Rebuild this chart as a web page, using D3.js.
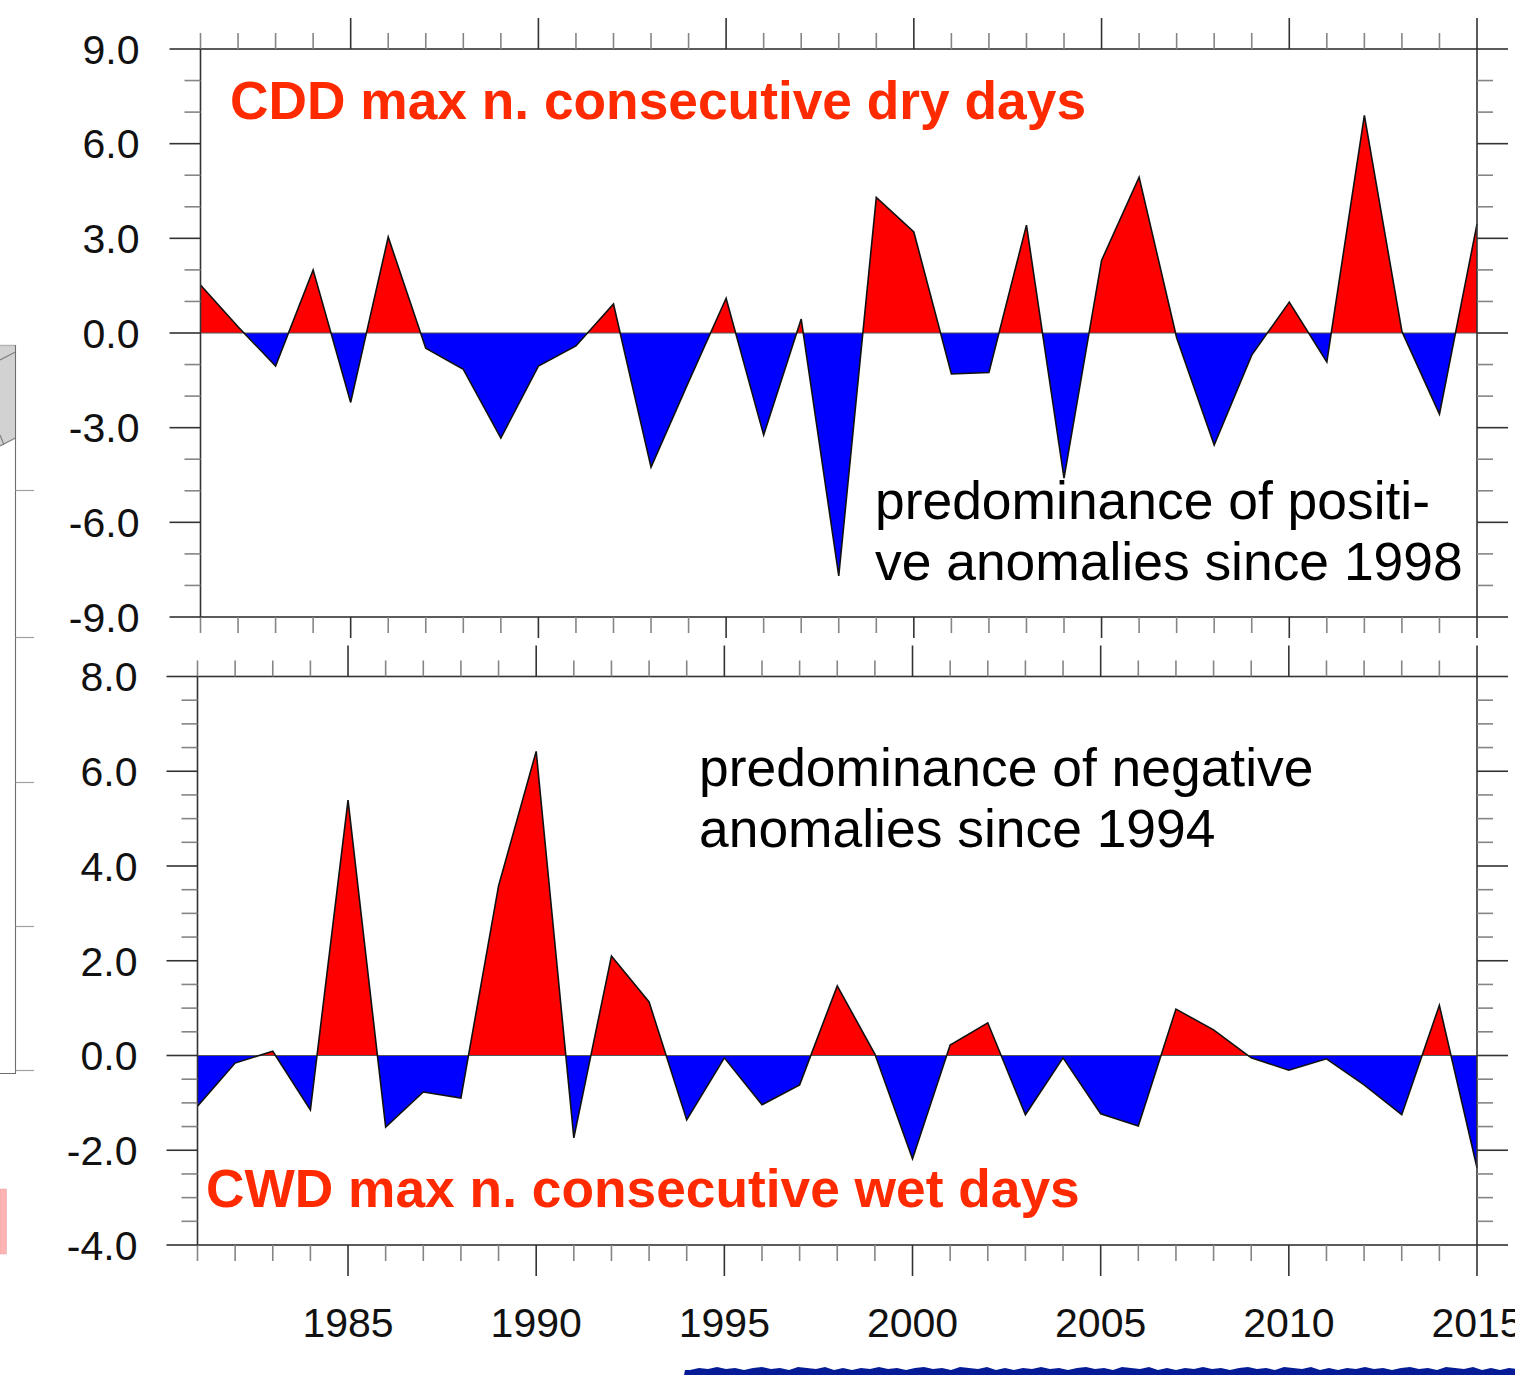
<!DOCTYPE html>
<html>
<head>
<meta charset="utf-8">
<script src="https://cdn.jsdelivr.net/npm/d3@7"></script>
<style>
  html, body { margin: 0; padding: 0; background: #fff; overflow: hidden; }
  svg { display: block; }
  text { font-family: "Liberation Sans", Arial, sans-serif; }
</style>
</head>
<body>
<svg id="chart" width="1515" height="1375"></svg>
<script>
const years = d3.range(1981, 2016);
const yearTicks = [1985, 1990, 1995, 2000, 2005, 2010, 2015];
const minorYears = years.filter((yr) => yr % 5 !== 0);

const cddValues = [1.52, 0.2, -1.05, 2.0, -2.2, 3.04, -0.48, -1.15, -3.33, -1.05, -0.41, 0.92,
  -4.25, -1.55, 1.1, -3.23, 0.44, -7.7, 4.3, 3.2, -1.3, -1.25, 3.42, -4.6, 2.3, 4.94,
  -0.15, -3.55, -0.7, 0.98, -0.92, 6.9, 0.05, -2.57, 3.45];
const cwdValues = [-1.07, -0.16, 0.09, -1.15, 5.39, -1.51, -0.77, -0.9, 3.58, 6.42, -1.74, 2.1,
  1.13, -1.36, -0.05, -1.04, -0.62, 1.47, 0.03, -2.18, 0.22, 0.69, -1.25, -0.05, -1.23, -1.49,
  0.98, 0.54, -0.05, -0.31, -0.07, -0.62, -1.25, 1.06, -2.37];

const cddTicks = [9, 6, 3, 0, -3, -6, -9];
const cddMinor = [8, 7, 5, 4, 2, 1, -1, -2, -4, -5, -7, -8];
const cwdTicks = [8, 6, 4, 2, 0, -2, -4];
const cwdMinor = [7.5, 7, 6.5, 5.5, 5, 4.5, 3.5, 3, 2.5, 1.5, 1, 0.5,
  -0.5, -1, -1.5, -2.5, -3, -3.5];

const dim = { major: 31, minor: 16, font: 41, title: 53.3, note: 53.4, noteLine: 61 };
const axisColor = '#333';
const minorColor = '#858585';
const axisWidth = 1.6;

// top edge of the map strip cut off at the bottom of the slide
const stripEdge = [3, 1, 2, 0, 2, 1, 3, 1, 0, 2, 1, 3, 0, 1, 2, 0, 3, 1];

const svg = d3.select('#chart');

// leftovers of the neighbouring figures on the slide
function drawFragments() {
  const g = svg.append('g');
  g.append('path')
    .attr('d', 'M0,346 L15.5,346 L15.5,438 L0,446 Z')
    .attr('fill', '#d2d2d2');
  g.append('path')
    .attr('d', 'M0,360 L15.5,352 M0,435 L4,445 M0,446 L15.5,438')
    .attr('fill', 'none').attr('stroke', '#808080').attr('stroke-width', 1.2);
  g.append('path')
    .attr('d', 'M0,345.5 H15.5').attr('stroke', '#b5b5b5').attr('stroke-width', 1.5);
  g.append('path')
    .attr('d', 'M15.5,345 V1073.5 H0')
    .attr('fill', 'none').attr('stroke', '#6e6e6e').attr('stroke-width', 1.1);
  g.selectAll('.stub').data([490, 637, 782, 926, 1070]).enter().append('line')
    .attr('x1', 15.5).attr('x2', 34).attr('y1', (d) => d + 0.5).attr('y2', (d) => d + 0.5)
    .attr('stroke', '#a0a0a0').attr('stroke-width', 1.2);
  g.append('rect')
    .attr('x', 0).attr('y', 1189).attr('width', 6.5).attr('height', 65)
    .attr('fill', '#ffb3b3').attr('stroke', '#dba5a5').attr('stroke-width', 0.5);

  const edgeX = d3.range(690, 1520, 9);
  const edge = edgeX.map((x, i) => `L${x},${1367 + stripEdge[i % stripEdge.length]}`).join(' ');
  g.append('path')
    .attr('d', `M684,1375 L685,1370 ${edge} L1515,1375 Z`)
    .attr('fill', '#061b96');
}

function callAxis(g, axis, size, color, padding) {
  const a = g.append('g')
    .call(axis.offset(0).tickSize(size).tickPadding(padding || 0));
  a.select('.domain').remove();
  a.selectAll('line').attr('stroke', color).attr('stroke-width', axisWidth);
  return a;
}

function drawPanel(o) {
  const x = d3.scaleLinear().domain([1981, 2015]).range([o.left, o.right]);
  const y = d3.scaleLinear().domain(o.domain).range([o.top, o.bottom]);
  const g = svg.append('g');
  const zero = y(0);
  const blank = () => '';

  const area = d3.area().x((d, i) => x(years[i])).y0(zero).y1((d) => y(d));
  const line = d3.line().x((d, i) => x(years[i])).y((d) => y(d));

  // clip at the zero line so the fill changes colour where the curve crosses it
  const defs = g.append('defs');
  defs.append('clipPath').attr('id', `clip-up-${o.key}`).append('rect')
    .attr('x', o.left).attr('width', o.right - o.left)
    .attr('y', o.top).attr('height', zero - o.top);
  defs.append('clipPath').attr('id', `clip-down-${o.key}`).append('rect')
    .attr('x', o.left).attr('width', o.right - o.left)
    .attr('y', zero).attr('height', o.bottom - zero);

  g.append('path').attr('d', area(o.values)).attr('fill', '#ff0000')
    .attr('clip-path', `url(#clip-up-${o.key})`);
  g.append('path').attr('d', area(o.values)).attr('fill', '#0000ff')
    .attr('clip-path', `url(#clip-down-${o.key})`);
  g.append('line')
    .attr('x1', o.left).attr('x2', o.right).attr('y1', zero).attr('y2', zero)
    .attr('stroke', '#555').attr('stroke-width', 1);
  g.append('path').attr('d', line(o.values))
    .attr('fill', 'none').attr('stroke', '#111').attr('stroke-width', 1.6)
    .attr('stroke-linejoin', 'miter');

  g.append('rect')
    .attr('x', o.left).attr('y', o.top)
    .attr('width', o.right - o.left).attr('height', o.bottom - o.top)
    .attr('fill', 'none').attr('stroke', axisColor).attr('stroke-width', axisWidth);

  const top = g.append('g').attr('transform', `translate(0,${o.top})`);
  const bottom = g.append('g').attr('transform', `translate(0,${o.bottom})`);
  const left = g.append('g').attr('transform', `translate(${o.left},0)`);
  const right = g.append('g').attr('transform', `translate(${o.right},0)`);

  callAxis(top, d3.axisTop(x).tickValues(minorYears).tickFormat(blank), dim.minor, minorColor);
  callAxis(top, d3.axisTop(x).tickValues(yearTicks).tickFormat(blank), dim.major, axisColor);
  callAxis(bottom, d3.axisBottom(x).tickValues(minorYears).tickFormat(blank), dim.minor, minorColor);

  const bottomMajor = callAxis(
    bottom,
    d3.axisBottom(x).tickValues(yearTicks).tickFormat(o.showYears ? (d) => d : blank),
    o.bottomMajor,
    axisColor,
    o.yearPad,
  );
  bottomMajor.selectAll('text').attr('font-size', dim.font).attr('fill', '#111');

  callAxis(left, d3.axisLeft(y).tickValues(o.yMinor).tickFormat(blank), dim.minor, minorColor);
  callAxis(right, d3.axisRight(y).tickValues(o.yMinor).tickFormat(blank), dim.minor, minorColor);
  callAxis(right, d3.axisRight(y).tickValues(o.yTicks).tickFormat(blank), dim.major, axisColor);

  const leftMajor = callAxis(
    left,
    d3.axisLeft(y).tickValues(o.yTicks).tickFormat((v) => v.toFixed(1)),
    dim.major,
    axisColor,
    o.labelPad,
  );
  leftMajor.selectAll('text').attr('font-size', dim.font).attr('dy', '0.36em').attr('fill', '#111');

  g.append('text')
    .attr('x', o.titleX).attr('y', o.titleY)
    .attr('font-size', dim.title).attr('font-weight', 700)
    .attr('fill', '#ff2a00')
    .text(o.title);
  o.note.forEach((t, i) => {
    g.append('text')
      .attr('x', o.noteX).attr('y', o.noteY + i * dim.noteLine)
      .attr('font-size', dim.note)
      .attr('fill', '#000')
      .text(t);
  });
}

drawFragments();

drawPanel({
  key: 'cdd',
  values: cddValues,
  domain: [9, -9],
  yTicks: cddTicks,
  yMinor: cddMinor,
  left: 200.5,
  right: 1477,
  top: 49,
  bottom: 617,
  bottomMajor: 21,
  labelPad: 30,
  title: 'CDD max n. consecutive dry days',
  titleX: 230,
  titleY: 119,
  note: ['predominance of positi-', 've anomalies since 1998'],
  noteX: 875,
  noteY: 519,
});

drawPanel({
  key: 'cwd',
  values: cwdValues,
  domain: [8, -4],
  yTicks: cwdTicks,
  yMinor: cwdMinor,
  left: 197.5,
  right: 1477,
  top: 676.5,
  bottom: 1245,
  bottomMajor: 31,
  labelPad: 29,
  showYears: true,
  yearPad: 32,
  title: 'CWD max n. consecutive wet days',
  titleX: 206,
  titleY: 1207,
  note: ['predominance of negative', 'anomalies since 1994'],
  noteX: 699,
  noteY: 786,
});
</script>
</body>
</html>
